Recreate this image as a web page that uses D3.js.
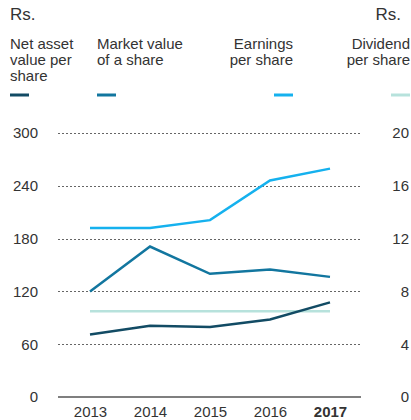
<!DOCTYPE html>
<html><head><meta charset="utf-8">
<script src="https://cdn.jsdelivr.net/npm/d3@7"></script>
<style>body{margin:0;background:#fff}svg{display:block}text{font-family:"Liberation Sans",Arial,sans-serif;fill:#333}</style>
</head><body><svg id="c" width="411" height="420"></svg>
<script>
const years = ["2013","2014","2015","2016","2017"];
const navPerShare = [71, 81, 79.5, 88, 107.5];       // left axis
const marketValue = [120, 171, 140, 145, 136.5];      // left axis
const epsPerShare = [12.8, 12.8, 13.4, 16.4, 17.3];   // right axis
const dividendPerShare = [6.5, 6.5, 6.5, 6.5, 6.5];   // right axis
const leftTicks = [0, 60, 120, 180, 240, 300];
const rightTicks = [0, 4, 8, 12, 16, 20];
const legendLabels = [["Net asset","value per","share"],["Market value","of a share"],["Earnings","per share"],["Dividend","per share"]];
const colors = ["#124b64","#12769f","#15b1ee","#b7e2dc"];

const svg = d3.select("#c");
const x = d3.scalePoint().domain(years).range([60,360]).padding(0.5);
const yL = d3.scaleLinear().domain([0,300]).range([397,133]);
const yR = d3.scaleLinear().domain([0,20]).range([397,133]);

// unit labels
svg.append("text").attr("x",10).attr("y",20).attr("font-size",17).text("Rs.");
svg.append("text").attr("x",401).attr("y",20).attr("font-size",17).attr("text-anchor","end").text("Rs.");

// legend
const legX = [10, 97, 293, 410];
const anchors = ["start","start","end","end"];
legendLabels.forEach((lines,i)=>{
  const t = svg.append("text").attr("font-size",15).attr("text-anchor",anchors[i]);
  lines.forEach((l,j)=>t.append("tspan").attr("x",legX[i]).attr("y",49+j*16).text(l));
  const x0 = anchors[i]==="start" ? legX[i] : legX[i]-19;
  svg.append("line").attr("x1",x0).attr("x2",x0+19).attr("y1",95).attr("y2",95)
    .attr("stroke",colors[i]).attr("stroke-width",3);
});

// grid
const gl = svg.append("g");
leftTicks.forEach(v=>{
  if(v===0) return;
  gl.append("line").attr("x1",58).attr("x2",361).attr("y1",Math.round(yL(v))+0.5).attr("y2",Math.round(yL(v))+0.5)
    .attr("stroke","#666").attr("stroke-width",1).attr("stroke-dasharray","2,2");
});
svg.append("line").attr("x1",58).attr("x2",361).attr("y1",yL(0)).attr("y2",yL(0)).attr("stroke","#555").attr("stroke-width",1.5);

// axis labels
const axL = svg.append("g").attr("transform","translate(38,0)").call(d3.axisLeft(yL).tickValues(leftTicks).tickSize(0).tickPadding(0));
const axR = svg.append("g").attr("transform","translate(409,0)").call(d3.axisLeft(yR).tickValues(rightTicks).tickSize(0).tickPadding(0));
[axL,axR].forEach(a=>{a.select(".domain").remove();a.selectAll("text").attr("font-size",15).attr("fill","#333").attr("font-family","Liberation Sans, Arial, sans-serif");});
const axB = svg.append("g").attr("transform","translate(0,406)").call(d3.axisBottom(x).tickSize(0).tickPadding(0));
axB.select(".domain").remove();
axB.selectAll("text").attr("font-size",15).attr("fill","#333").attr("font-family","Liberation Sans, Arial, sans-serif")
  .attr("font-weight",d=>d==="2017"?"bold":"normal");

// lines
const series = [[navPerShare,yL],[marketValue,yL],[epsPerShare,yR],[dividendPerShare,yR]];
const draw = [3,1,0,2];
draw.forEach(i=>{
  const [vals,ys] = series[i];
  const line = d3.line().x((d,k)=>x(years[k])).y(d=>ys(d));
  svg.append("path").attr("d",line(vals)).attr("fill","none").attr("stroke",colors[i]).attr("stroke-width",2.5);
});
</script></body></html>
